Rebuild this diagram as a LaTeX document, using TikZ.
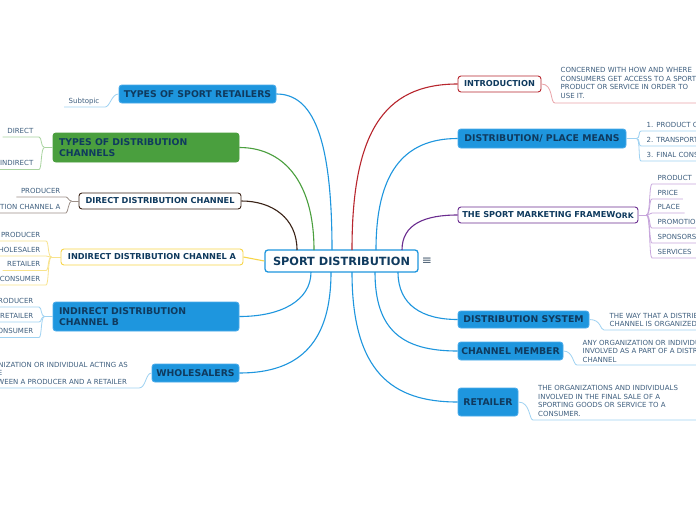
\documentclass[tikz,border=0pt]{standalone}
\usepackage{fontspec}
\setmainfont{DejaVu Sans}
\definecolor{tblue}{HTML}{1E96DE}
\definecolor{tblueedge}{HTML}{4AABEA}
\definecolor{navy}{HTML}{0F3A5E}
\definecolor{subtxt}{HTML}{3F5F7F}
\definecolor{tgreen}{HTML}{4A9F3E}
\definecolor{tbrown}{HTML}{3B2418}
\definecolor{tyellow}{HTML}{F7D548}
\definecolor{tred}{HTML}{B8262E}
\definecolor{tpurple}{HTML}{6A2C8F}
\definecolor{lblue}{HTML}{9FD2F2}
\definecolor{lgreen}{HTML}{A9D4A0}
\definecolor{lbrown}{HTML}{9C8F88}
\definecolor{lyellow}{HTML}{F8E38C}
\definecolor{lred}{HTML}{E9A3A8}
\definecolor{lpurple}{HTML}{C7A6DC}
\definecolor{iconc}{HTML}{4A5E72}
\newcommand\tfont{\fontsize{8.2}{11}\selectfont\bfseries}
\newcommand\ffont{\fontsize{9.3}{11}\selectfont\bfseries}
\newcommand\sfont{\fontsize{7}{8.5}\selectfont}
\begin{document}
\begin{tikzpicture}[x=1pt,y=-1pt,
  topic/.style={rounded corners=3pt, inner sep=0pt, font=\tfont, text=navy, line width=0.9pt, align=center},
  bbox/.style={topic, font=\ffont, fill=tblue, draw=tblueedge},
  gbox/.style={topic, font=\ffont, fill=tgreen, draw=tgreen},
  wbox/.style={topic, fill=white, draw=#1},
  central/.style={rounded corners=3pt, inner sep=0pt, fill=white, draw=tblue, line width=1.3pt,
    font=\fontsize{11.3}{13}\selectfont\bfseries, text=navy, minimum width=153pt, minimum height=22pt},
  sub/.style={font=\sfont, text=subtxt, inner xsep=4.5pt, inner ysep=3.5pt, text height=5pt, text depth=0pt},
  msub/.style={font=\sfont, text=subtxt, inner xsep=4.5pt, inner ysep=3.5pt, align=left},
  main/.style={line width=1.1pt, draw=#1},
  subline/.style={line width=0.8pt, draw=#1, rounded corners=1pt}
]
\clip (0,0) rectangle (696,520);
\fill[white] (0,0) rectangle (696,520);

% ---------- central ----------
\node[central] (sd) at (341.5,261) {SPORT DISTRIBUTION};
\node[font=\fontsize{12}{12}\selectfont, text=iconc, inner sep=0pt] (menu) at (427,261) {≡};

% ---------- topic boxes ----------
\node[bbox, minimum width=157pt, minimum height=18pt] (tsr) at (197.5,94) {TYPES OF SPORT RETAILERS};
\node[gbox, minimum width=186pt, minimum height=29pt, text width=174pt, align=left] (tdc) at (146,147.5) {TYPES OF DISTRIBUTION\\CHANNELS};
\node[wbox=tbrown, minimum width=162pt, minimum height=16pt] (ddc) at (160,201) {DIRECT DISTRIBUTION CHANNEL};
\node[wbox=tyellow, minimum width=182pt, minimum height=16pt] (idca) at (152,257) {INDIRECT DISTRIBUTION CHANNEL A};
\node[bbox, minimum width=186pt, minimum height=29pt, text width=174pt, align=left] (idcb) at (146,316.5) {INDIRECT DISTRIBUTION\\CHANNEL B};
\node[bbox, minimum width=87pt, minimum height=18pt] (wh) at (195.5,373) {WHOLESALERS};
\node[wbox=tred, minimum width=83pt, minimum height=16pt] (intro) at (499.5,84) {INTRODUCTION};
\node[bbox, minimum width=168pt, minimum height=19pt] (dpm) at (542,138.5) {DISTRIBUTION/ PLACE MEANS};
\node[wbox=tpurple, minimum width=180pt, minimum height=16pt] (smf) at (548,215) {THE SPORT MARKETING FRAMEW\raisebox{-1pt}{\fontsize{7.6}{9}\selectfont ORK}};
\node[bbox, minimum width=131pt, minimum height=17pt] (ds) at (523.5,319.5) {DISTRIBUTION SYSTEM};
\node[bbox, minimum width=105pt, minimum height=18pt] (cm) at (510.5,351) {CHANNEL MEMBER};
\node[bbox, minimum width=60pt, minimum height=28pt] (ret) at (488,402) {RETAILER};

% ---------- anchor points on the central node ----------
\coordinate (t1) at (297,250);
\coordinate (t2) at (314,250);
\coordinate (t3) at (332,250);
\coordinate (t4) at (352,250);
\coordinate (t5) at (376,250);
\coordinate (t6) at (402,250);
\coordinate (b1) at (311,272);
\coordinate (b2) at (331,272);
\coordinate (b3) at (352,272);
\coordinate (b4) at (375,272);
\coordinate (b5) at (398,272);

% ---------- main connectors ----------
\draw[main=tbrown] (t1) .. controls (297,218) and (272,201) .. (ddc.east);
\draw[main=tgreen] (t2) .. controls (314,180) and (282,147.5) .. (tdc.east);
\draw[main=tblue] (t3) .. controls (332,135) and (312,94) .. (tsr.east);
\draw[main=tyellow] (sd.west) -- (idca.east);
\draw[main=tblue] (b1) .. controls (311,300) and (282,316.5) .. (idcb.east);
\draw[main=tblue] (b2) .. controls (331,340) and (302,373) .. (wh.east);
\draw[main=tred] (t4) .. controls (352,135) and (382,84) .. (intro.west);
\draw[main=tblue] (t5) .. controls (376,175) and (402,138.5) .. (dpm.west);
\draw[main=tpurple] (t6) .. controls (402,224) and (425,215) .. (smf.west);
\draw[main=tblue] (b5) .. controls (398,305) and (422,319.5) .. (ds.west);
\draw[main=tblue] (b4) .. controls (375,330) and (402,351) .. (cm.west);
\draw[main=tblue] (b3) .. controls (352,372) and (392,402) .. (ret.west);

% ---------- left subtopics ----------
% types of sport retailers
\node[sub, anchor=south east] (s11) at (104,107) {Subtopic};
\draw[subline=lblue] (s11.south west) -- (s11.south east) .. controls +(6,0) and +(-7,0) .. (tsr.west);

% types of distribution channels
\node[sub, anchor=south east] (s21) at (38,137) {DIRECT};
\node[sub, anchor=south east] (s22) at (38,169.5) {INDIRECT};
\draw[subline=lgreen] (tdc.west) -- ++(-8,0) coordinate (j2);
\draw[subline=lgreen] (j2) .. controls +(-4,0) and +(4,0) .. (s21.south east) -- (s21.south west);
\draw[subline=lgreen] (j2) .. controls +(-4,0) and +(4,0) .. (s22.south east) -- (s22.south west);

% direct distribution channel
\node[sub, anchor=south east] (s31) at (65,197) {PRODUCER};
\node[sub, anchor=south east] (s32) at (65,213) {DISTRIBUTION CHANNEL A};
\draw[subline=lbrown] (ddc.west) -- ++(-7,0) coordinate (j3);
\draw[subline=lbrown] (j3) .. controls +(-3,0) and +(3,0) .. (s31.south east) -- (s31.south west);
\draw[subline=lbrown] (j3) .. controls +(-3,0) and +(3,0) .. (s32.south east) -- (s32.south west);

% indirect distribution channel A
\node[sub, anchor=south east] (s41) at (45,241) {PRODUCER};
\node[sub, anchor=south east] (s42) at (45,256) {WHOLESALER};
\node[sub, anchor=south east] (s43) at (45,270.5) {RETAILER};
\node[sub, anchor=south east] (s44) at (45,285) {FINAL CONSUMER};
\draw[subline=lyellow] (idca.west) -- ++(-9,0) coordinate (j4);
\foreach \s in {s41,s42,s43,s44}
  \draw[subline=lyellow] (j4) .. controls +(-4,0) and +(4,0) .. (\s.south east) -- (\s.south west);

% indirect distribution channel B
\node[sub, anchor=south east] (s51) at (38,307) {PRODUCER};
\node[sub, anchor=south east] (s52) at (38,322) {RETAILER};
\node[sub, anchor=south east] (s53) at (38,337.5) {FINAL CONSUMER};
\draw[subline=lblue] (idcb.west) -- ++(-8,0) coordinate (j5);
\foreach \s in {s51,s52,s53}
  \draw[subline=lblue] (j5) .. controls +(-4,0) and +(4,0) .. (\s.south east) -- (\s.south west);

% wholesalers
\node[msub, anchor=south east, inner xsep=10pt] (s61) at (138,388)
  {AN ORGANIZATION OR INDIVIDUAL ACTING AS\\\hspace*{2.5pt}A MIDDLE\\MAN BETWEEN A PRODUCER AND A RETAILER};
\draw[subline=lblue] (s61.south west) -- (s61.south east) .. controls +(8,0) and +(-6,0) .. (wh.west);

% ---------- right subtopics ----------
% introduction
\node[msub, anchor=south west, inner ysep=4.5pt] (s71) at (556,103)
  {CONCERNED WITH HOW AND WHERE\\CONSUMERS GET ACCESS TO A SPORT\\PRODUCT OR SERVICE IN ORDER TO\\USE IT.};
\draw[subline=lred] (intro.east) .. controls +(12,0) and +(-6,0) .. (s71.south west) -- (s71.south east) -- ++(20,0);

% distribution / place means
\node[sub, anchor=south west] (s81) at (642,131) {1. PRODUCT ORIGINATOR};
\node[sub, anchor=south west] (s82) at (642,146) {2. TRANSPORTATION};
\node[sub, anchor=south west] (s83) at (642,161) {3. FINAL CONSUMER};
\draw[subline=lblue] (dpm.east) -- ++(10,0) coordinate (j8);
\foreach \s in {s81,s82,s83}
  \draw[subline=lblue] (j8) .. controls +(4,0) and +(-4,0) .. (\s.south west) -- (\s.south east);

% sport marketing framework
\node[sub, anchor=south west] (s91) at (653,184) {PRODUCT};
\node[sub, anchor=south west] (s92) at (653,199) {PRICE};
\node[sub, anchor=south west] (s93) at (653,213) {PLACE};
\node[sub, anchor=south west] (s94) at (653,228) {PROMOTION};
\node[sub, anchor=south west] (s95) at (653,243) {SPONSORSHIP};
\node[sub, anchor=south west] (s96) at (653,258) {SERVICES};
\draw[subline=lpurple] (smf.east) -- ++(8,0) coordinate (j9);
\foreach \s in {s91,s92,s93,s94,s95,s96}
  \draw[subline=lpurple] (j9) .. controls +(4,0) and +(-4,0) .. (\s.south west) -- (\s.south east);

% distribution system
\node[msub, anchor=south west, inner ysep=3pt] (s101) at (605,330)
  {THE WAY THAT A DISTRIBUTION\\CHANNEL IS ORGANIZED.};
\draw[subline=lblue] (ds.east) .. controls +(12,0) and +(-5,0) .. (s101.south west) -- (s101.south east);

% channel member
\node[msub, anchor=south west, inner ysep=2.5pt] (s111) at (578,365)
  {ANY ORGANIZATION OR INDIVIDUAL\\INVOLVED AS A PART OF A DISTRIBUTION\\CHANNEL};
\draw[subline=lblue] (cm.east) .. controls +(10,0) and +(-5,0) .. (s111.south west) -- (s111.south east);

% retailer
\node[msub, anchor=south west, inner xsep=4pt] (s121) at (534,420)
  {THE ORGANIZATIONS AND INDIVIDUALS\\INVOLVED IN THE FINAL SALE OF A\\SPORTING GOODS OR SERVICE TO A\\CONSUMER.};
\draw[subline=lblue] (ret.east) .. controls +(12,0) and +(-5,0) .. (s121.south west) -- (s121.south east) -- ++(30,0);
\end{tikzpicture}
\end{document}
